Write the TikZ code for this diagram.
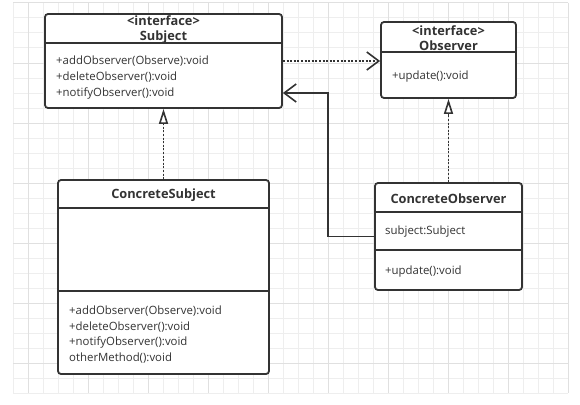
\documentclass[tikz,border=0pt]{standalone}
\usepackage{fontspec}
\setmainfont{Open Sans}
\usetikzlibrary{arrows.meta}
\definecolor{umlline}{HTML}{333333}
\definecolor{gridfine}{HTML}{EEEEEE}
\definecolor{gridmajor}{HTML}{E0E0E0}
\begin{document}
\begin{tikzpicture}[x=1pt,y=-1pt,
  classbox/.style={draw=umlline, line width=1.8pt, rounded corners=3pt, fill=white, inner sep=0pt},
  classsep/.style={draw=umlline, line width=1.6pt},
  classname/.style={font=\fontsize{12.8}{15.5}\selectfont\bfseries, text=umlline, align=center, inner sep=0pt},
  members/.style={font=\fontsize{11.4}{15.6}\selectfont, text=umlline, align=left, anchor=west, inner sep=0pt},
  depends/.style={draw=umlline, line width=1.6pt, dash pattern=on 2pt off 1.6pt, -{Straight Barb[length=12pt,width=18pt,line width=1.6pt]}},
  realizes/.style={draw=umlline, line width=1.6pt, dash pattern=on 2pt off 1.6pt, -{Triangle[open,length=15pt,width=9pt,line width=1.6pt,fill=white]}},
  assoc/.style={draw=umlline, line width=1.6pt, -{Straight Barb[length=12pt,width=18pt,line width=1.6pt]}}]
\useasboundingbox (0,0) rectangle (580,404);
\fill[white] (0,0) rectangle (580,404);
\foreach \x in {13,28,...,568} \draw[gridfine, line width=1pt] (\x,3) -- (\x,393);
\foreach \y in {3,18,...,393} \draw[gridfine, line width=1pt] (13,\y) -- (568,\y);
\foreach \x in {28,88,...,568} \draw[gridmajor, line width=1pt] (\x,3) -- (\x,393);
\foreach \y in {3,63,...,363} \draw[gridmajor, line width=1pt] (13,\y) -- (568,\y);

\node[classbox, minimum width=237pt, minimum height=94pt] (subject) at (163.5,61) {};
\node[classbox, minimum width=135pt, minimum height=76pt] (observer) at (448.5,60) {};
\node[classbox, minimum width=211pt, minimum height=194pt] (concretesubject) at (163.5,277) {};
\node[classbox, minimum width=147pt, minimum height=107pt] (concreteobserver) at (448.5,236.5) {};

\draw[classsep] ([yshift=-30pt]subject.north west) -- ([yshift=-30pt]subject.north east);
\draw[classsep] ([yshift=-31pt]observer.north west) -- ([yshift=-31pt]observer.north east);
\draw[classsep] ([yshift=-29pt]concretesubject.north west) -- ([yshift=-29pt]concretesubject.north east);
\draw[classsep] ([yshift=-112pt]concretesubject.north west) -- ([yshift=-112pt]concretesubject.north east);
\draw[classsep] ([yshift=-30pt]concreteobserver.north west) -- ([yshift=-30pt]concreteobserver.north east);
\draw[classsep] ([yshift=-68pt]concreteobserver.north west) -- ([yshift=-68pt]concreteobserver.north east);

\node[classname] (subjectname) at (163.5,29.5) {<interface>\\Subject};
\node[members] (subjectops) at (56,77.5) {+addObserver(Observe):void\\+deleteObserver():void\\+notifyObserver():void};
\node[classname] (observername) at (448.5,38) {<interface>\\Observer};
\node[members] (observerops) at (392,76.5) {+update():void};
\node[classname] (concretesubjectname) at (163.5,195) {ConcreteSubject};
\node[members] (concretesubjectops) at (69,334.5) {+addObserver(Observe):void\\+deleteObserver():void\\+notifyObserver():void\\otherMethod():void};
\node[classname] (concreteobservername) at (448.5,198.5) {ConcreteObserver};
\node[members] (concreteobserverattr) at (385,232) {subject:Subject};
\node[members] (concreteobserverops) at (385,271.5) {+update():void};

\draw[depends] (subject.east) -- (observer.west |- subject.east);
\draw[assoc] (concreteobserver.west) -- ++(-46,0) |- ([yshift=-32pt]subject.east);
\draw[realizes] (concretesubject.north) -- (subject.south);
\draw[realizes] (concreteobserver.north) -- (observer.south);
\end{tikzpicture}
\end{document}
